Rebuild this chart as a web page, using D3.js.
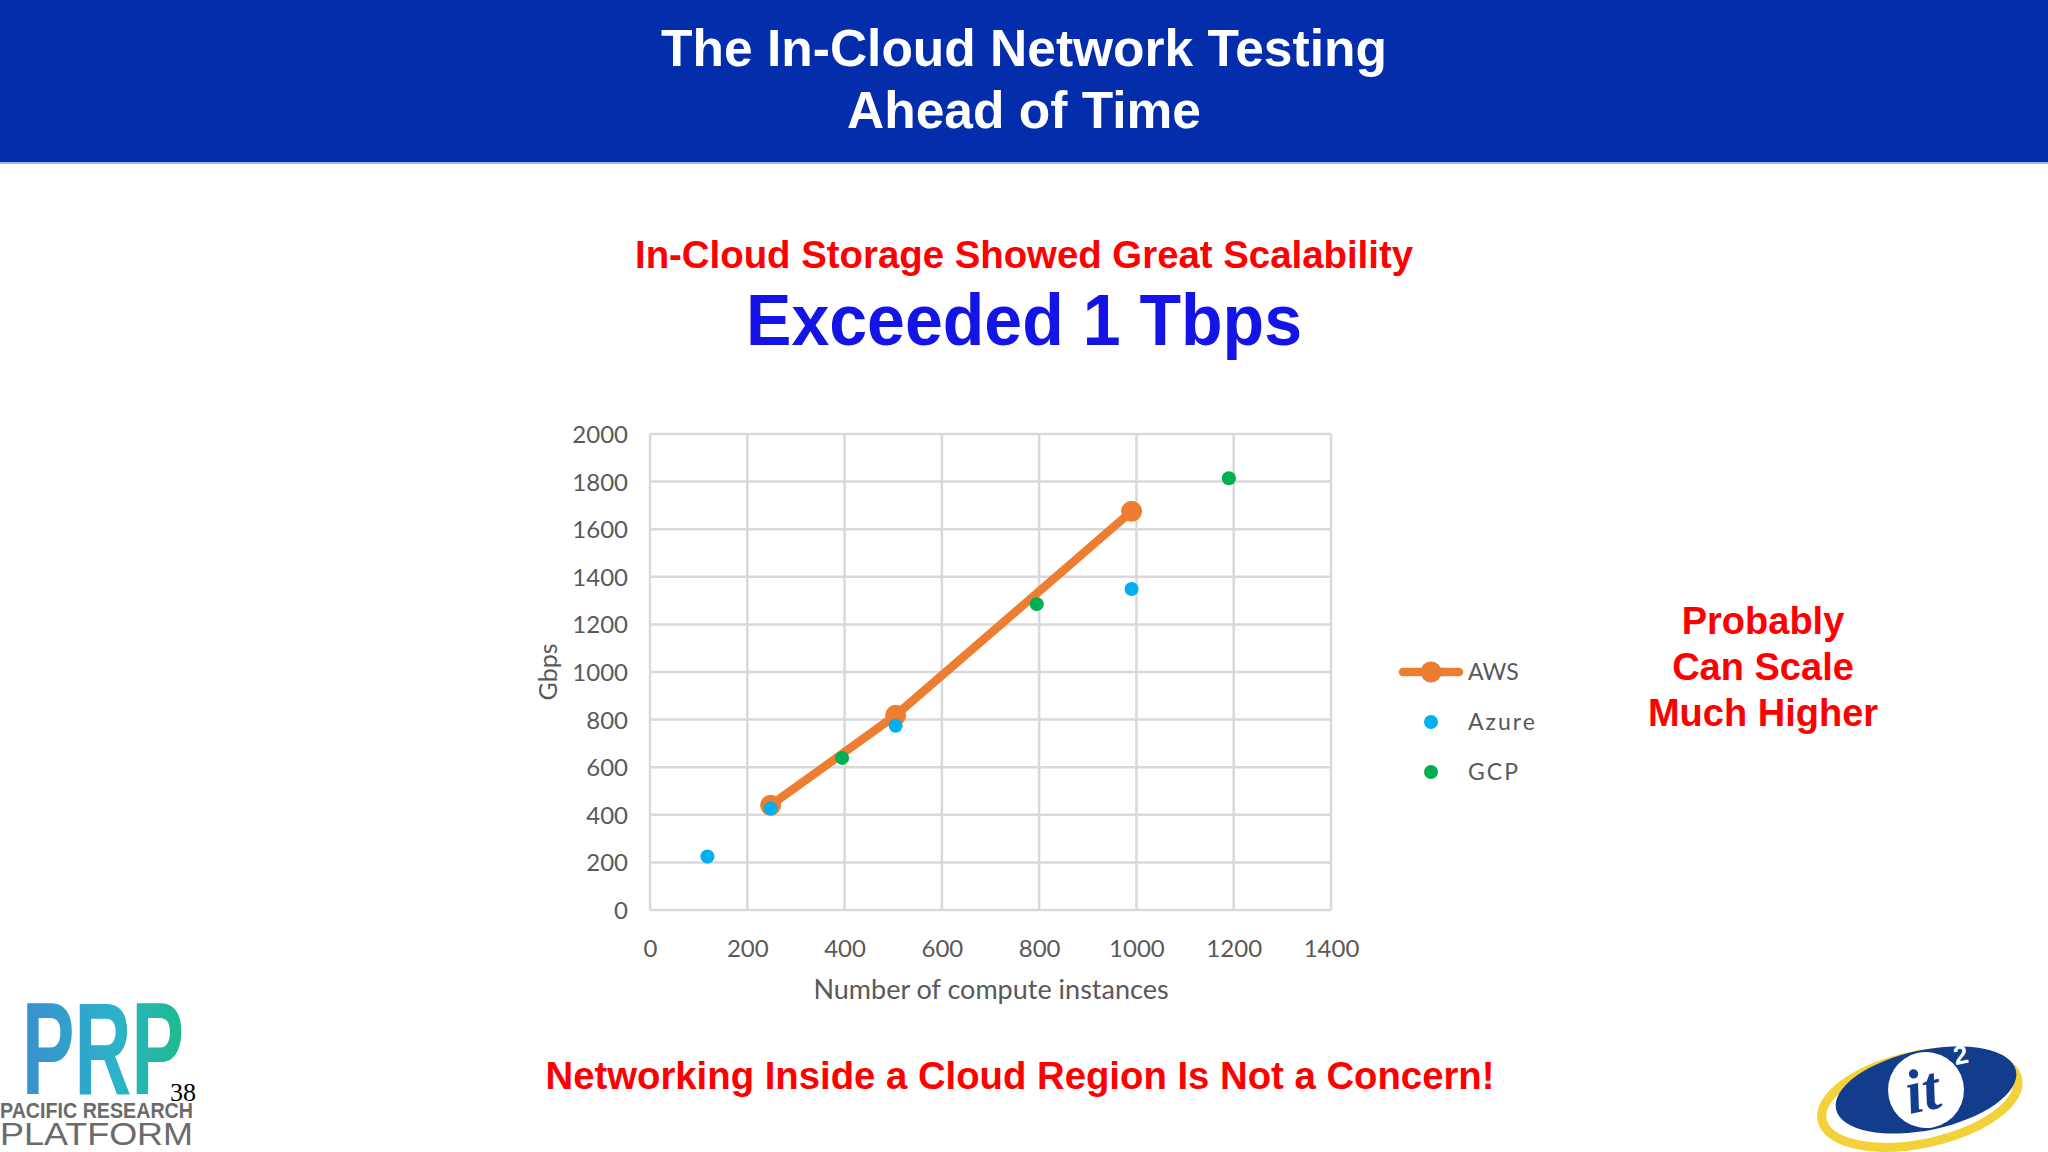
<!DOCTYPE html>
<html>
<head>
<meta charset="utf-8">
<script src="https://cdn.jsdelivr.net/npm/d3@7"></script>
<style>
  html, body { margin: 0; padding: 0; background: #fff; }
  svg { display: block; }
</style>
</head>
<body>
<div class="container"></div>
<script>
// chart values
var xTicks = [0, 200, 400, 600, 800, 1000, 1200, 1400]
var yTicks = [0, 200, 400, 600, 800, 1000, 1200, 1400, 1600, 1800, 2000]

var awsX = [248, 505, 990]
var awsY = [440, 818, 1675]
var azureX = [118, 248, 505, 990]
var azureY = [225, 426, 774, 1349]
var gcpX = [395, 795, 1190]
var gcpY = [639, 1285, 1814]

var seriesNames = ['AWS', 'Azure', 'GCP']
var seriesColors = ['#ED7D31', '#00B0F0', '#00B050']

var titleLines = ['The In-Cloud Network Testing', 'Ahead of Time']
var sideNote = ['Probably', 'Can Scale', 'Much Higher']

var W = 2048, H = 1152
var svg = d3.select('.container').append('svg')
  .attr('width', W).attr('height', H)
  .style('font-family', 'Liberation Sans, Arial, sans-serif')

// header band
svg.append('rect').attr('x', 0).attr('y', 0).attr('width', W).attr('height', 162).attr('fill', '#032DAA')
svg.append('rect').attr('x', 0).attr('y', 162).attr('width', W).attr('height', 2).attr('fill', '#9DB8EA')

svg.selectAll('text.title').data(titleLines).enter().append('text')
  .attr('class', 'title')
  .attr('x', 1024).attr('y', (d, i) => 66 + i * 62)
  .attr('text-anchor', 'middle')
  .attr('fill', '#fff').attr('font-weight', 'bold').attr('font-size', 51.5)
  .text(d => d)

svg.append('text')
  .attr('x', 1024).attr('y', 268)
  .attr('text-anchor', 'middle').attr('fill', '#FF0000')
  .attr('font-weight', 'bold').attr('font-size', 38)
  .attr('textLength', 778).attr('lengthAdjust', 'spacingAndGlyphs')
  .text('In-Cloud Storage Showed Great Scalability')

svg.append('text')
  .attr('x', 1024).attr('y', 345)
  .attr('text-anchor', 'middle').attr('fill', '#1414E6')
  .attr('font-weight', 'bold').attr('font-size', 72)
  .attr('textLength', 556).attr('lengthAdjust', 'spacingAndGlyphs')
  .text('Exceeded 1 Tbps')

// plot
var x = d3.scaleLinear().domain([0, 1400]).range([650, 1331])
var y = d3.scaleLinear().domain([0, 2000]).range([910, 434])

var g = svg.append('g').style('font-family', 'Lato, Open Sans, sans-serif')

g.selectAll('line.vgrid').data(xTicks).enter().append('line')
  .attr('x1', d => x(d)).attr('x2', d => x(d))
  .attr('y1', y(0)).attr('y2', y(2000))
  .attr('stroke', '#D9D9D9').attr('stroke-width', 2.5)
g.selectAll('line.hgrid').data(yTicks).enter().append('line')
  .attr('x1', x(0)).attr('x2', x(1400))
  .attr('y1', d => y(d)).attr('y2', d => y(d))
  .attr('stroke', '#D9D9D9').attr('stroke-width', 2.5)

var xAxis = g.append('g').attr('transform', 'translate(0,' + (y(0) + 22) + ')')
  .call(d3.axisBottom(x).tickValues(xTicks).tickSize(0).tickFormat(d3.format('d')))
var yAxis = g.append('g').attr('transform', 'translate(' + (x(0) - 22) + ',0)')
  .call(d3.axisLeft(y).tickValues(yTicks).tickSize(0).tickFormat(d3.format('d')))
;[xAxis, yAxis].forEach(a => {
  a.select('.domain').remove()
  a.selectAll('text').attr('fill', '#595959').attr('font-size', 24).style('font-family', 'Lato, Open Sans, sans-serif')
})
xAxis.selectAll('text').attr('dy', '0.9em')
yAxis.selectAll('text').attr('dy', '0.35em').attr('x', 0)

g.append('text')
  .attr('transform', 'translate(557,' + y(1000) + ') rotate(-90)')
  .attr('text-anchor', 'middle').attr('fill', '#595959').attr('font-size', 25)
  .text('Gbps')
g.append('text')
  .attr('x', 991).attr('y', 999)
  .attr('text-anchor', 'middle').attr('fill', '#595959').attr('font-size', 27)
  .text('Number of compute instances')

var aws = awsX.map((d, i) => [d, awsY[i]])
var azure = azureX.map((d, i) => [d, azureY[i]])
var gcp = gcpX.map((d, i) => [d, gcpY[i]])

g.append('path').datum(aws)
  .attr('d', d3.line().x(d => x(d[0])).y(d => y(d[1])))
  .attr('fill', 'none').attr('stroke', seriesColors[0]).attr('stroke-width', 8.5).attr('stroke-linecap', 'round')
g.selectAll('circle.aws').data(aws).enter().append('circle')
  .attr('cx', d => x(d[0])).attr('cy', d => y(d[1])).attr('r', 10.5).attr('fill', seriesColors[0])
g.selectAll('circle.azure').data(azure).enter().append('circle')
  .attr('cx', d => x(d[0])).attr('cy', d => y(d[1])).attr('r', 7).attr('fill', seriesColors[1])
g.selectAll('circle.gcp').data(gcp).enter().append('circle')
  .attr('cx', d => x(d[0])).attr('cy', d => y(d[1])).attr('r', 7).attr('fill', seriesColors[2])

// legend
var leg = g.selectAll('g.leg').data(seriesNames).enter().append('g')
  .attr('transform', (d, i) => 'translate(1431,' + (672 + i * 50) + ')')
leg.filter((d, i) => i == 0).append('line')
  .attr('x1', -28).attr('x2', 28).attr('stroke', seriesColors[0]).attr('stroke-width', 8.5).attr('stroke-linecap', 'round')
leg.append('circle').attr('r', (d, i) => i == 0 ? 10.5 : 7).attr('fill', (d, i) => seriesColors[i])
leg.append('text').attr('x', 37).attr('dy', '0.35em')
  .attr('fill', '#595959').attr('font-size', 23).attr('letter-spacing', (d, i) => i ? 2 : 0)
  .text(d => d)

// side note
svg.selectAll('text.note').data(sideNote).enter().append('text')
  .attr('x', 1763).attr('y', (d, i) => 634 + i * 46)
  .attr('text-anchor', 'middle').attr('fill', '#FF0000')
  .attr('font-weight', 'bold').attr('font-size', 38)
  .text(d => d)

svg.append('text')
  .attr('x', 1020).attr('y', 1089)
  .attr('text-anchor', 'middle').attr('fill', '#FF0000')
  .attr('font-weight', 'bold').attr('font-size', 38)
  .attr('textLength', 949).attr('lengthAdjust', 'spacingAndGlyphs')
  .text('Networking Inside a Cloud Region Is Not a Concern!')

// PRP logo
var defs = svg.append('defs')
var grad = defs.append('linearGradient').attr('id', 'prpGrad')
grad.append('stop').attr('offset', '0%').attr('stop-color', '#3A8FD0')
grad.append('stop').attr('offset', '60%').attr('stop-color', '#2BB3C8')
grad.append('stop').attr('offset', '100%').attr('stop-color', '#1DBB8A')
svg.append('text')
  .attr('x', 22).attr('y', 1094)
  .attr('fill', 'url(#prpGrad)').attr('font-weight', 'bold').attr('font-size', 132)
  .attr('textLength', 162).attr('lengthAdjust', 'spacingAndGlyphs')
  .style('font-family', 'Liberation Sans Narrow, Liberation Sans, sans-serif')
  .text('PRP')
svg.append('text').attr('x', 0).attr('y', 1118)
  .attr('fill', '#6B6B6B').attr('font-weight', 'bold').attr('font-size', 22)
  .attr('textLength', 193).attr('lengthAdjust', 'spacingAndGlyphs')
  .text('PACIFIC RESEARCH')
svg.append('text').attr('x', 0).attr('y', 1145)
  .attr('fill', '#6B6B6B').attr('font-size', 32)
  .attr('textLength', 193).attr('lengthAdjust', 'spacingAndGlyphs')
  .text('PLATFORM')
svg.append('text').attr('x', 170).attr('y', 1101)
  .attr('fill', '#000').attr('font-size', 26).style('font-family', 'Liberation Serif, serif')
  .text('38')

// it2 logo
var it = svg.append('g').attr('transform', 'translate(1926,1090) rotate(-12)')
it.append('ellipse').attr('rx', 100).attr('ry', 44).attr('fill', 'none')
  .attr('stroke', '#F2D13A').attr('stroke-width', 9).attr('transform', 'translate(-8,8)')
it.append('ellipse').attr('rx', 92).attr('ry', 40).attr('fill', '#123C8C')
it.append('circle').attr('cx', 0).attr('cy', 0).attr('r', 38).attr('fill', '#fff')
it.append('text').attr('x', -4).attr('y', 20).attr('text-anchor', 'middle')
  .attr('fill', '#123C8C').attr('font-weight', 'bold').attr('font-style', 'italic').attr('font-size', 62)
  .style('font-family', 'Liberation Serif, serif')
  .text('it')
it.append('text').attr('x', 34).attr('y', -18)
  .attr('fill', '#fff').attr('font-weight', 'bold').attr('font-size', 26)
  .text('2')
</script>
</body>
</html>
